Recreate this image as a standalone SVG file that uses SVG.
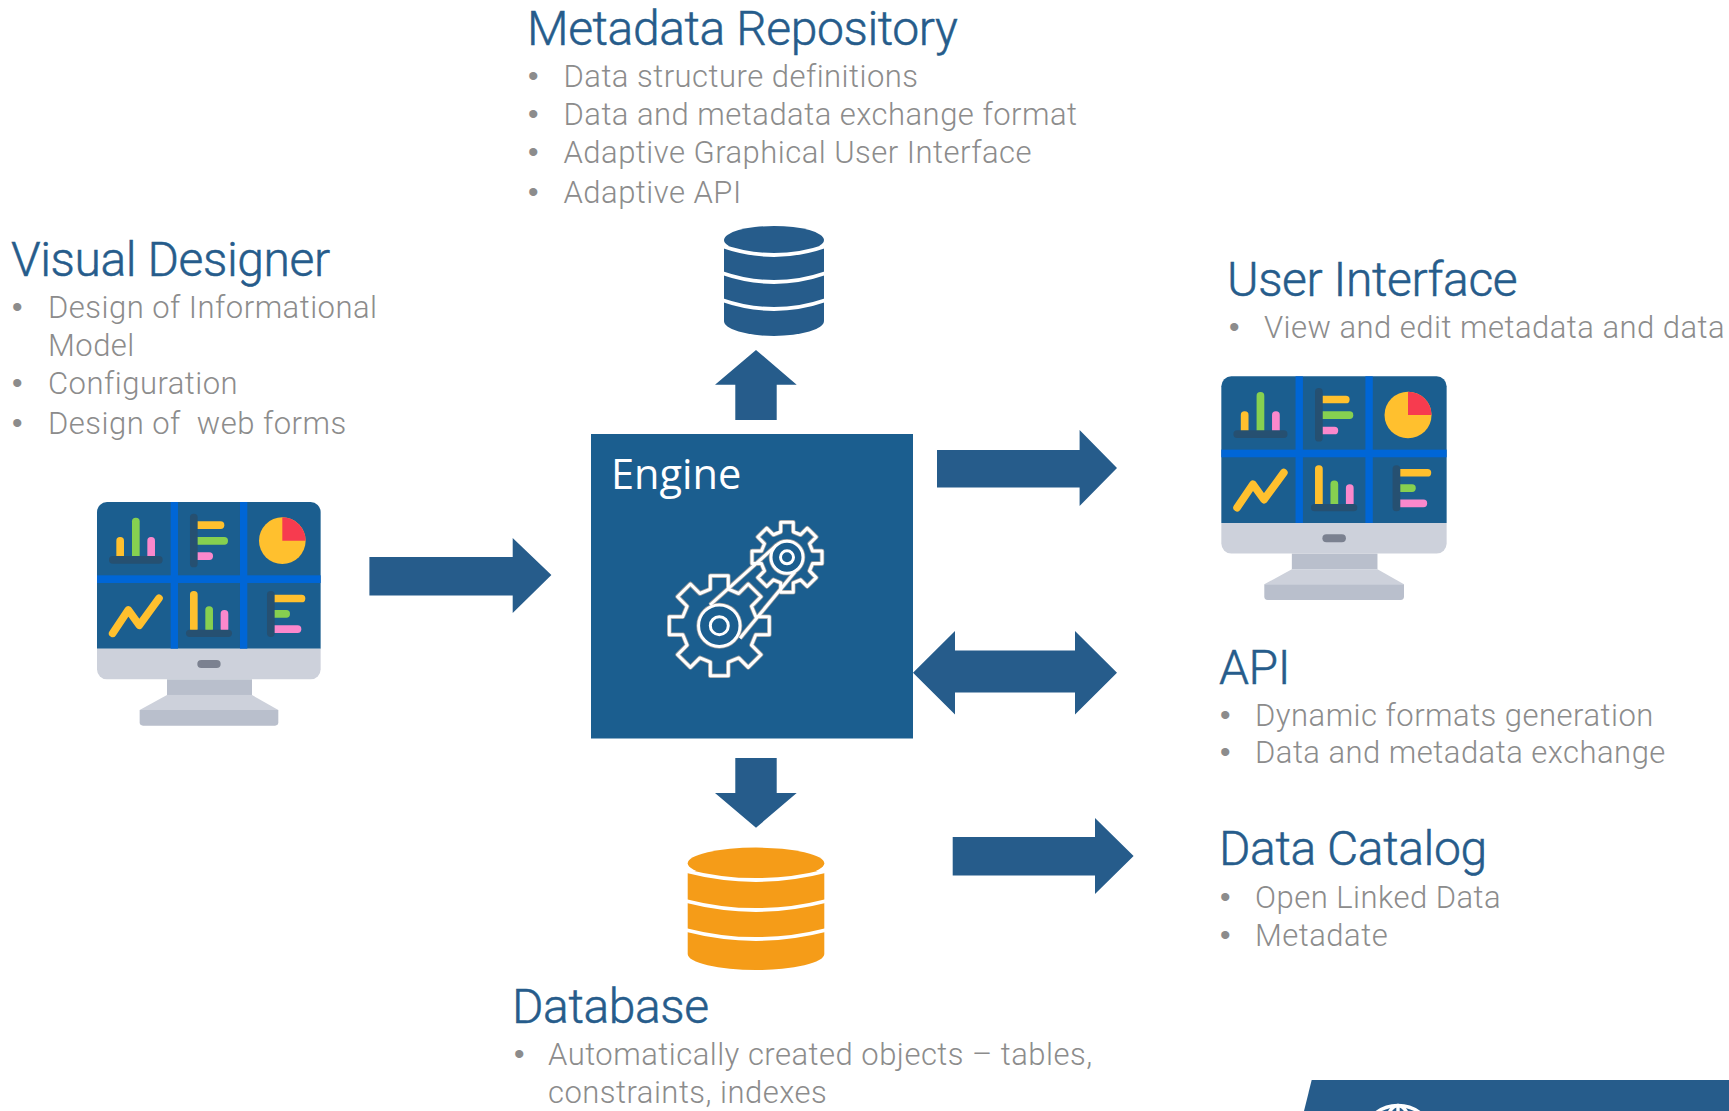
<svg xmlns="http://www.w3.org/2000/svg" width="1729" height="1111" viewBox="0 0 1729 1111">
<style>
.t{font-family:Roboto,"Liberation Sans",sans-serif;font-weight:300;font-size:48px;fill:#265c8b;stroke:#265c8b;stroke-width:.5px;letter-spacing:-.4px}
.b{font-family:Roboto,"Liberation Sans",sans-serif;font-weight:300;font-size:31px;fill:#8c8c8c;letter-spacing:.48px}
.d{font-family:"Liberation Sans",sans-serif;font-size:30px;fill:#8c8c8c}
.a{fill:#265c8b}
.w{fill:none;stroke:#fff;stroke-width:3.8}
.dk{fill:#265071}.yl{fill:#ffc02e}.gr{fill:#86d050}.pk{fill:#fb88cc}
.gp{fill:none;stroke-linejoin:round;vector-effect:non-scaling-stroke}
.gc{fill:#1b5e8f}
</style>
<defs>
<g id="monitor">
<path d="M51,506V96a30,30 0 0 1 30-30H692a30,30 0 0 1 30,30V506Z" fill="#1b5e8f"/>
<path d="M51,506H722V568a30,30 0 0 1-30,30H81a30,30 0 0 1-30-30Z" fill="#cdd1db"/>
<rect x="272" y="66" width="22" height="440" fill="#0066d6"/>
<rect x="480" y="66" width="22" height="440" fill="#0066d6"/>
<rect x="51" y="286" width="671" height="23" fill="#0066d6"/>
<rect class="yl" x="109" y="171" width="23" height="70" rx="11"/>
<rect class="gr" x="156" y="113" width="23" height="128" rx="11"/>
<rect class="pk" x="202" y="171" width="23" height="70" rx="11"/>
<rect class="dk" x="87" y="228" width="161" height="23" rx="11"/>
<rect class="yl" x="340" y="124" width="93" height="23" rx="11"/>
<rect class="gr" x="340" y="171" width="104" height="23" rx="11"/>
<rect class="pk" x="340" y="217" width="59" height="23" rx="11"/>
<rect class="dk" x="330" y="101" width="23" height="161" rx="11"/>
<circle class="yl" cx="607" cy="182" r="70"/>
<path d="M607,182V112A70,70 0 0 1 677,182Z" fill="#f73b4f"/>
<polyline points="98,460 145,390 178,436 237,355" fill="none" stroke="#ffc02e" stroke-width="23" stroke-linecap="round" stroke-linejoin="round"/>
<rect class="yl" x="330" y="333" width="23" height="125" rx="11"/>
<rect class="gr" x="376" y="379" width="23" height="79" rx="11"/>
<rect class="pk" x="422" y="390" width="23" height="68" rx="11"/>
<rect class="dk" x="318" y="449" width="138" height="22" rx="11"/>
<rect class="yl" x="570" y="344" width="106" height="23" rx="11"/>
<rect class="gr" x="570" y="390" width="60" height="23" rx="11"/>
<rect class="pk" x="570" y="436" width="94" height="23" rx="11"/>
<rect class="dk" x="561" y="333" width="23" height="138" rx="11"/>
<rect x="352" y="540" width="70" height="24" rx="12" fill="#7b8190"/>
<rect x="261" y="598" width="255" height="47" fill="#b9bfcc"/>
<path d="M261,645H516L595,690H179Z" fill="#cdd1db"/>
<path d="M179,690H595V727a10,10 0 0 1-10,10H189a10,10 0 0 1-10-10Z" fill="#b9bfcc"/>
</g>
<polygon id="gear" class="gp" points="-9,-36.5 -9,-50 9,-50 9,-36.5 19.4,-32.2 28.9,-41.7 41.7,-29 32.2,-19.4 36.5,-9 50,-9 50,9 36.5,9 32.2,19.4 41.7,29 28.9,41.7 19.4,32.2 9,36.5 9,50 -9,50 -9,36.5 -19.4,32.2 -28.9,41.7 -41.7,29 -32.2,19.4 -36.5,9 -50,9 -50,-9 -36.5,-9 -32.2,-19.4 -41.7,-29 -28.9,-41.7 -19.4,-32.2"/>
<g id="gearart">
<use href="#gear" transform="translate(719.3,625.7)"/>
<use href="#gear" transform="translate(787,557.3) scale(.7)"/>
<path class="gp" d="M710,605L776.7,545M740,638.3L795,571.7"/>
<circle class="gc" cx="719.3" cy="625.7" r="20.7"/>
<circle class="gc" cx="787" cy="557.3" r="16"/>
<circle class="gp" cx="719.3" cy="625.7" r="9"/>
<circle class="gp" cx="787" cy="557.3" r="6.5"/>
</g>
</defs>

<g id="connectors">
<polygon class="a" points="735.3,420 735.3,384.7 715,384.7 756,350 796.7,384.7 776.7,384.7 776.7,420"/>
<polygon class="a" points="735.3,758 776.7,758 776.7,793 796.7,793 756,827.7 715,793 735.3,793"/>
<polygon class="a" points="369.4,557 512.7,557 512.7,538 551.4,575 512.7,613 512.7,595.5 369.4,595.5"/>
<polygon class="a" points="937,450 1079.6,450 1079.6,430 1117,468 1079.6,506 1079.6,487.4 937,487.4"/>
<polygon class="a" points="913,672.7 955,631 955,650.6 1075,650.6 1075,631 1117,672.7 1075,714.5 1075,692.5 955,692.5 955,714.5"/>
<polygon class="a" points="952.7,837 1095,837 1095,818 1133.6,856 1095,894 1095,875.5 952.7,875.5"/>
</g>

<g id="engine">
<rect x="591" y="434" width="322" height="304.5" fill="#1b5e8f"/>
<text x="611" y="489" font-family="'Open Sans',sans-serif" font-size="41.5" fill="#fff">Engine</text>
<use href="#gearart" stroke="#9a9a9a" stroke-width="4.6"/>
<use href="#gearart" stroke="#fff" stroke-width="3"/>
</g>

<g id="metadata-repository">
<text class="t" x="527" y="45">Metadata Repository</text>
<text class="d" x="528" y="86">•</text><text class="b" x="563.5" y="87">Data structure definitions</text>
<text class="d" x="528" y="124">•</text><text class="b" x="563.5" y="125">Data and metadata exchange format</text>
<text class="d" x="528" y="162">•</text><text class="b" x="563.5" y="163">Adaptive Graphical User Interface</text>
<text class="d" x="528" y="202">•</text><text class="b" x="563.5" y="203">Adaptive API</text>
<ellipse cx="774" cy="240" rx="50" ry="14" class="a"/>
<path class="a" d="M724,246H824V321A50,15 0 0 1 724,321Z"/>
<path class="w" d="M722,246Q774,264 826,246M722,273Q774,291 826,273M722,300Q774,318 826,300"/>
</g>

<g id="visual-designer">
<text class="t" x="11" y="276">Visual Designer</text>
<text class="d" x="12" y="317">•</text><text class="b" x="48" y="318">Design of Informational</text>
<text class="b" x="48" y="356">Model</text>
<text class="d" x="12" y="393">•</text><text class="b" x="48" y="394">Configuration</text>
<text class="d" x="12" y="433">•</text><text class="b" x="48" y="434" xml:space="preserve">Design of  web forms</text>
<use href="#monitor" transform="translate(80,480) scale(.3333)"/>
</g>

<g id="user-interface">
<text class="t" x="1227" y="296">User Interface</text>
<text class="d" x="1229" y="337">•</text><text class="b" x="1264" y="338">View and edit metadata and data</text>
<use href="#monitor" transform="translate(1204.2,354.3) scale(.3358,.3333)"/>
</g>

<g id="api">
<text class="t" x="1219" y="684">API</text>
<text class="d" x="1220" y="725">•</text><text class="b" x="1255" y="726">Dynamic formats generation</text>
<text class="d" x="1220" y="762">•</text><text class="b" x="1255" y="763">Data and metadata exchange</text>
</g>

<g id="data-catalog">
<text class="t" x="1219" y="865">Data Catalog</text>
<text class="d" x="1220" y="907">•</text><text class="b" x="1255" y="908">Open Linked Data</text>
<text class="d" x="1220" y="945">•</text><text class="b" x="1255" y="946">Metadate</text>
</g>

<g id="database">
<ellipse cx="756" cy="863.3" rx="68.3" ry="15.7" fill="#f59c18"/>
<path fill="#f59c18" d="M687.7,871H824.3V954A68.3,16 0 0 1 687.7,954Z"/>
<path class="w" d="M686,871Q756,889 826,871M686,901Q756,919 826,901M686,930Q756,948 826,930"/>
<text class="t" x="512" y="1023">Database</text>
<text class="d" x="514" y="1064">•</text><text class="b" x="548" y="1065">Automatically created objects – tables,</text>
<text class="b" x="548" y="1103">constraints, indexes</text>
</g>

<g id="footer-banner">
<polygon class="a" points="1311.7,1080 1729,1080 1729,1111 1304,1111"/>
<g fill="none" stroke="#fff" stroke-width="3.4">
<circle cx="1398" cy="1142" r="36.5"/>
<ellipse cx="1398" cy="1142" rx="15" ry="36.5"/>
<path d="M1398,1105V1111"/>
</g>
</g>
</svg>
